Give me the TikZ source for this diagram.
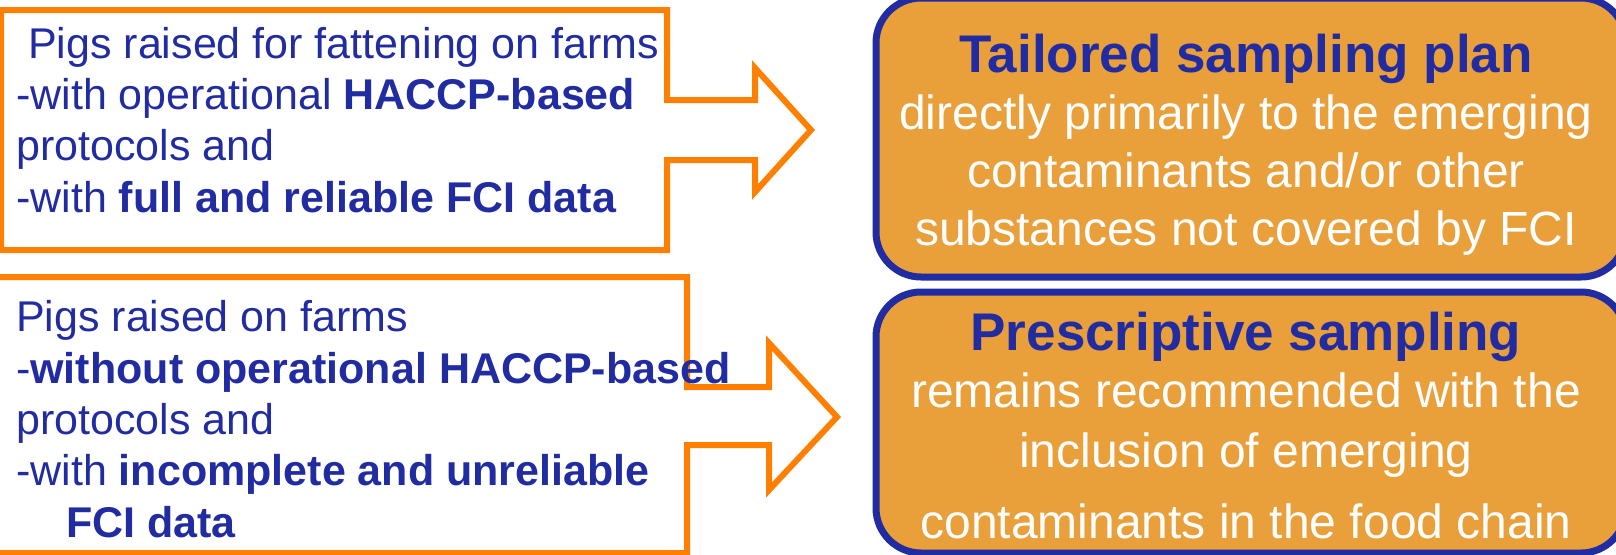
\documentclass[tikz,border=0pt]{standalone}
\usepackage{fontspec}
\setmainfont{Liberation Sans}
\definecolor{arrorange}{RGB}{255,128,0}
\definecolor{planfill}{RGB}{233,159,58}
\definecolor{planblue}{RGB}{34,44,162}
\tikzset{
  callout/.style={draw=arrorange, line width=6pt, fill=white, line join=miter},
  planbox/.style={draw=planblue, line width=7pt, fill=planfill, rounded corners=45pt},
  farmtext/.style={anchor=base west, align=left, text=planblue, inner sep=0pt,
    font=\fontsize{43}{51.3}\selectfont},
  plantitle/.style={anchor=base, text=planblue, inner sep=0pt,
    font=\fontsize{53}{60}\selectfont\bfseries},
  plantext/.style={anchor=base, align=center, text=white, inner sep=0pt,
    font=\fontsize{48}{58}\selectfont},
}

\begin{document}
\begin{tikzpicture}[x=1pt,y=-1pt]
  \useasboundingbox (0,0) rectangle (1616,554);
  % left callouts
  \draw[callout] (1,10) -- (667,10) -- (667,100) -- (755,100) -- (755,68)
    -- (811,130) -- (755,192) -- (755,160) -- (667,160) -- (667,250)
    -- (1,250) -- cycle;
  \draw[callout] (-5,277) -- (687,277) -- (687,387) -- (769,387) -- (769,343)
    -- (837,417) -- (769,490) -- (769,445) -- (687,445) -- (687,553)
    -- (-5,553) -- cycle;
  % right boxes
  \draw[planbox] (876,-2) rectangle (1626,277);
  \draw[planbox] (876,292) rectangle (1626,553);
  % texts (base = last line)
  \node[farmtext] (fatten) at (16,212) {\hspace*{12pt}Pigs raised for fattening on farms\\
    -with operational \textbf{HACCP-based}\\
    protocols and\\
    -with \textbf{full and reliable FCI data}};
  \node[farmtext] (farms) at (16,537) {Pigs raised on farms\\
    -\textbf{without operational HACCP-based}\\
    protocols and\\
    -with \textbf{incomplete and unreliable}\\
    \hspace*{50pt}\textbf{FCI data}};
  \node[plantitle] (tailored) at (1246,72) {Tailored sampling plan};
  \node[plantext] (tailoredtext) at (1246,245) {directly primarily to the emerging\\
    contaminants and/or other\\
    substances not covered by FCI};
  \node[plantitle] (prescr) at (1246,350) {Prescriptive sampling};
  \node[plantext, font=\fontsize{48}{60}\selectfont] (prescrtext) at (1246,538)
    {remains recommended with the\\
    inclusion of emerging\\[11pt]
    contaminants in the food chain};
\end{tikzpicture}
\end{document}
